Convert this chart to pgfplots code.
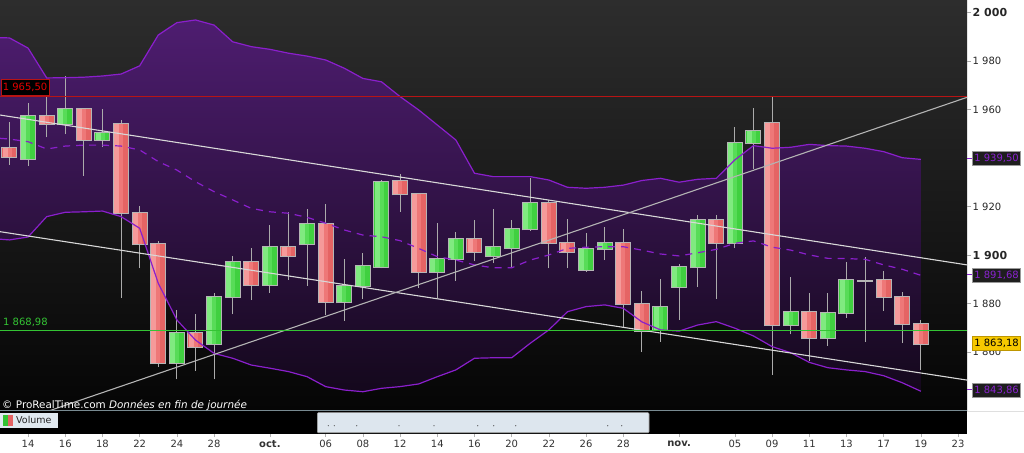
\documentclass[border=0pt]{standalone}
\usepackage{pgfplots}
\usepackage{pgfplotstable}
\pgfplotsset{compat=1.18}
\usepackage{fontspec}
\setmainfont{DejaVu Sans}

\definecolor{bgtop}{HTML}{2D2D2D}
\definecolor{bgbot}{HTML}{050505}
\definecolor{bandtop}{HTML}{4E1D70}
\definecolor{bandbot}{HTML}{14081C}
\definecolor{bandline}{HTML}{8A1FCC}
\definecolor{redbody}{HTML}{E56464}
\definecolor{redmid}{HTML}{EE7878}
\definecolor{redlight}{HTML}{F59A9A}
\definecolor{greenbody}{HTML}{40D040}
\definecolor{greenmid}{HTML}{58DC58}
\definecolor{greenlight}{HTML}{80EA80}
\definecolor{bordergray}{HTML}{B5B5B5}
\definecolor{wickgray}{HTML}{ABABAB}
\definecolor{resline}{HTML}{B81414}
\definecolor{supline}{HTML}{34C434}
\definecolor{trend}{HTML}{D8D8D8}
\definecolor{trendb}{HTML}{B4B4B4}
\definecolor{labpurple}{HTML}{8A22D0}
\definecolor{boxgray}{HTML}{1E1E1E}
\definecolor{volbox}{HTML}{DDE6EE}

\pgfplotstableread{
i up mid lo
-0.51 1989.7 1948.2 1906.6
0 1989.6 1947.9 1906.3
1 1985.4 1946.8 1907.5
2 1973.1 1943.8 1915.9
3 1973.2 1945.0 1917.7
4 1973.4 1945.4 1917.9
5 1973.9 1945.4 1918.2
6 1974.7 1945.0 1915.9
7 1978.1 1943.4 1911.1
8 1990.8 1938.6 1888.4
9 1995.9 1935.1 1873.3
10 1997.0 1930.3 1865.0
11 1994.9 1926.2 1859.5
12 1988.0 1922.8 1857.5
13 1986.0 1919.3 1854.7
14 1984.9 1917.9 1853.4
15 1983.3 1917.3 1852.0
16 1982.1 1915.6 1849.9
17 1980.5 1913.2 1845.8
18 1977.1 1910.4 1844.4
19 1972.9 1908.3 1843.7
20 1971.5 1907.6 1845.1
21 1965.4 1906.0 1845.8
22 1959.9 1902.8 1846.9
23 1953.7 1899.4 1849.9
24 1947.5 1898.0 1852.7
25 1933.8 1896.0 1857.5
26 1932.4 1894.8 1857.7
27 1932.4 1894.8 1857.7
28 1932.4 1898.0 1863.7
29 1931.0 1900.1 1869.2
30 1928.0 1902.8 1876.7
31 1927.6 1903.3 1878.8
32 1928.0 1903.5 1879.5
33 1928.9 1903.5 1878.1
34 1930.8 1902.1 1872.5
35 1931.7 1900.5 1869.2
36 1930.1 1899.7 1868.7
37 1931.3 1901.0 1871.2
38 1931.7 1902.4 1872.6
39 1939.3 1904.9 1869.9
40 1945.2 1905.9 1866.7
41 1944.1 1903.3 1862.3
42 1944.5 1902.1 1859.8
43 1945.7 1900.1 1855.8
44 1945.2 1898.7 1853.6
45 1945.0 1898.6 1852.7
46 1944.1 1898.3 1852.0
47 1942.7 1896.0 1850.3
48 1940.2 1894.2 1847.4
49 1939.5 1891.7 1843.9
}\bands

% band area outline: upper band forward, lower band backward
\pgfplotstableread{
i y
-0.51 1989.7
0 1989.6
1 1985.4
2 1973.1
3 1973.2
4 1973.4
5 1973.9
6 1974.7
7 1978.1
8 1990.8
9 1995.9
10 1997.0
11 1994.9
12 1988.0
13 1986.0
14 1984.9
15 1983.3
16 1982.1
17 1980.5
18 1977.1
19 1972.9
20 1971.5
21 1965.4
22 1959.9
23 1953.7
24 1947.5
25 1933.8
26 1932.4
27 1932.4
28 1932.4
29 1931.0
30 1928.0
31 1927.6
32 1928.0
33 1928.9
34 1930.8
35 1931.7
36 1930.1
37 1931.3
38 1931.7
39 1939.3
40 1945.2
41 1944.1
42 1944.5
43 1945.7
44 1945.2
45 1945.0
46 1944.1
47 1942.7
48 1940.2
49 1939.5
49 1843.9
48 1847.4
47 1850.3
46 1852.0
45 1852.7
44 1853.6
43 1855.8
42 1859.8
41 1862.3
40 1866.7
39 1869.9
38 1872.6
37 1871.2
36 1868.7
35 1869.2
34 1872.5
33 1878.1
32 1879.5
31 1878.8
30 1876.7
29 1869.2
28 1863.7
27 1857.7
26 1857.7
25 1857.5
24 1852.7
23 1849.9
22 1846.9
21 1845.8
20 1845.1
19 1843.7
18 1844.4
17 1845.8
16 1849.9
15 1852.0
14 1853.4
13 1854.7
12 1857.5
11 1859.5
10 1865.0
9 1873.3
8 1888.4
7 1911.1
6 1915.9
5 1918.2
4 1917.9
3 1917.7
2 1915.9
1 1907.5
0 1906.3
-0.51 1906.6
}\bandarea

\pgfplotstableread{
i o h l c
0 1944.3 1954.9 1937.2 1940.6
2 1957.3 1965.4 1948.6 1954.1
4 1960.2 1960.4 1932.8 1947.5
6 1954.0 1955.8 1882.5 1917.5
7 1917.3 1920.3 1894.6 1904.5
8 1904.5 1905.9 1854.0 1855.4
10 1867.8 1875.6 1852.4 1862.3
13 1897.1 1902.8 1881.5 1887.7
15 1903.3 1917.8 1889.8 1899.7
17 1912.9 1921.1 1875.5 1880.7
21 1930.7 1933.5 1917.9 1925.1
22 1925.1 1925.3 1886.4 1893.2
25 1906.6 1914.5 1897.7 1901.2
29 1921.4 1922.8 1894.6 1905.2
30 1905.2 1914.8 1894.6 1901.4
33 1905.2 1910.9 1869.9 1879.8
34 1879.8 1885.4 1860.0 1868.7
38 1914.5 1916.6 1881.9 1905.2
41 1954.4 1965.5 1850.6 1871.2
43 1876.7 1884.5 1856.5 1865.7
47 1889.8 1893.6 1877.1 1882.9
48 1882.9 1884.9 1863.7 1871.6
49 1871.6 1873.3 1852.7 1863.2
}\downtab

\pgfplotstableread{
i o h l c
1 1939.7 1962.6 1936.8 1957.5
3 1954.0 1973.9 1949.9 1960.2
5 1947.5 1960.2 1944.7 1950.5
9 1855.4 1877.4 1848.8 1867.8
11 1863.4 1884.3 1848.8 1882.9
12 1882.9 1899.7 1875.6 1897.1
14 1887.7 1912.3 1884.5 1903.3
16 1904.5 1919.2 1887.3 1912.9
18 1880.6 1898.6 1873.0 1887.4
19 1887.3 1900.8 1881.9 1895.5
20 1895.3 1931.0 1894.6 1930.1
23 1893.2 1913.2 1882.2 1898.3
24 1898.3 1909.6 1889.5 1906.6
26 1899.8 1918.9 1896.7 1903.3
27 1903.1 1914.5 1894.6 1910.9
28 1910.7 1932.0 1910.0 1921.4
31 1893.9 1909.0 1893.2 1902.4
32 1902.4 1911.8 1898.0 1905.2
35 1869.2 1890.1 1864.3 1878.5
36 1887.0 1896.4 1873.3 1895.0
37 1895.0 1916.7 1886.8 1914.5
39 1904.9 1952.7 1902.8 1946.1
40 1946.1 1960.6 1935.5 1951.3
42 1871.2 1890.9 1867.4 1876.7
44 1865.7 1884.3 1862.7 1876.0
45 1876.0 1897.1 1874.2 1889.8
46 1889.5 1899.1 1864.3 1889.5
}\uptab

% candles drawn as vertical quiver segments
\newcommand{\candles}[4]{%
 \addplot[forget plot, -, draw=wickgray, line width=1pt, quiver={u=0, v=\thisrow{h}-\thisrow{l}}]
   table[x=i, y=l]{#1};
 \addplot[forget plot, -, draw=bordergray, line width=16pt, quiver={u=0, v=abs(\thisrow{c}-\thisrow{o})+0.84}]
   table[x=i, y expr={min(\thisrow{o},\thisrow{c})-0.42}]{#1};
 \addplot[forget plot, -, draw=#4, line width=14pt, quiver={u=0, v=\thisrow{c}-\thisrow{o}}]
   table[x=i, y=o]{#1};
 \addplot[forget plot, -, draw=#3, line width=9pt, quiver={u=0, v=\thisrow{c}-\thisrow{o}}]
   table[x expr={\thisrow{i}-0.13}, y=o]{#1};
 \addplot[forget plot, -, draw=#2, line width=5pt, quiver={u=0, v=\thisrow{c}-\thisrow{o}}]
   table[x expr={\thisrow{i}-0.24}, y=o]{#1};
}

\tikzset{pbox/.style={draw=gray!80, fill=boxgray, text=labpurple, font=\fontsize{10}{12}\selectfont,
  inner sep=1.6pt, anchor=west, minimum height=14pt, line width=0.8pt}}

\begin{document}
\begin{tikzpicture}
\useasboundingbox (0,0) rectangle (1024pt,452pt);
\fill[white] (0,0) rectangle (1024pt,452pt);
\shade[top color=bgtop, bottom color=bgbot] (0pt,41pt) rectangle (967pt,452pt);

\begin{axis}[
  at={(0pt,41pt)}, anchor=south west,
  scale only axis, width=967pt, height=411pt,
  xmin=-0.51, xmax=51.48, ymin=1835.75, ymax=2005.24,
  axis line style={draw=none},
  xtick=\empty,
  ytick={1860,1880,1900,1920,1960,1980,2000},
  yticklabels={1 860,1 880,{\fontsize{11}{12}\selectfont\bfseries 1 900},1 920,1 960,1 980,{\fontsize{11}{12}\selectfont\bfseries 2 000}},
  ytick pos=right, yticklabel pos=right,
  tick align=outside, major tick length=4pt,
  tick style={draw=gray!70, line width=0.8pt},
  yticklabel style={font=\fontsize{10}{12}\selectfont, text=black!85, inner sep=1.5pt},
]
\addplot[top color=bandtop, bottom color=bandbot, draw=none, forget plot] table[x=i, y=y]{\bandarea};

\candles{\downtab}{redlight}{redmid}{redbody}
\candles{\uptab}{greenlight}{greenmid}{greenbody}

\addplot[bandline, line width=1.2pt, forget plot] table[x=i, y=up]{\bands};
\addplot[bandline, line width=1.2pt, forget plot] table[x=i, y=lo]{\bands};
\addplot[bandline, line width=1.2pt, dash pattern=on 7pt off 6pt, forget plot] table[x=i, y=mid]{\bands};

\addplot[trend, line width=1.1pt, forget plot] coordinates {(-0.51,1957.8) (51.48,1896.0)};
\addplot[trend, line width=1.1pt, forget plot] coordinates {(-0.51,1909.7) (51.48,1848.5)};
\addplot[trendb, line width=1.1pt, forget plot] coordinates {(-0.51,1828.9) (51.48,1965.1)};

\addplot[resline, line width=1.4pt, forget plot] coordinates {(-0.51,1965.5) (51.48,1965.5)};
\addplot[supline, line width=1.4pt, forget plot] coordinates {(-0.51,1868.98) (51.48,1868.98)};
\end{axis}

\fill[black] (0pt,18pt) rectangle (967pt,41pt);
\begin{axis}[
  at={(0pt,18pt)}, anchor=south west,
  scale only axis, width=967pt, height=23pt,
  xmin=-0.51, xmax=51.48, ymin=0, ymax=1,
  axis line style={draw=none},
  ytick=\empty,
  xtick={1,3,5,7,9,11,14,17,19,21,23,25,27,29,31,33,36,39,41,43,45,47,49,51},
  xticklabels={14,16,18,22,24,28,\textbf{oct.},06,08,12,14,16,20,22,26,28,\textbf{nov.},05,09,11,13,17,19,23},
  xtick pos=bottom, tick align=outside, major tick length=3pt,
  tick style={draw=gray!60, line width=0.6pt},
  xticklabel style={font=\fontsize{10}{12}\selectfont, text=black!80},
]
\addplot[draw=none, forget plot] coordinates {(0,0.5) (50,0.5)};
\end{axis}

% separator between panels
\draw[color={rgb,255:red,120;green,138;blue,145}, line width=1pt] (0,41pt) -- (967pt,41pt);
\draw[gray!25, line width=0.8pt] (967pt,41pt) -- (1024pt,41pt);

% volume legend
\fill[volbox!90!white] (0,24.3pt) rectangle (58pt,39.3pt);
\fill[supline] (3pt,26.5pt) rectangle (8pt,37pt);
\fill[redbody] (8pt,26.5pt) rectangle (13pt,37pt);
\node[anchor=west, inner sep=0pt, font=\fontsize{9.5}{11}\selectfont, text=black!85] at (16pt,31.8pt) {Volume};

% navigator box
\draw[fill=volbox, draw=gray!70, line width=0.6pt, rounded corners=1pt] (317.3pt,19.3pt) rectangle (649pt,39.3pt);
\foreach \xx in {328.3,334.3,356.7,399,434,477.7,493.7,515.7,607.7,621.7}
  \fill[black!70] (\xx pt,26.3pt) circle (0.6pt);

% watermark
\node[anchor=west, inner sep=0pt, text=white, font=\fontsize{10.4}{12}\selectfont] at (2pt,47pt)
  {© ProRealTime.com \textit{Données en fin de journée}};

% left labels
\node[anchor=west, draw=resline, fill=black, text=red!90!black, line width=1pt, inner sep=1.8pt,
  minimum height=16pt, font=\fontsize{10}{12}\selectfont] at (0.5pt,364.5pt) {1 965,50};
\node[anchor=west, inner sep=0pt, text=supline, font=\fontsize{10}{12}\selectfont] at (3pt,130pt) {1 868,98};

% right labels
\draw[labpurple, line width=1pt] (967pt,293.7pt) -- (972.3pt,293.7pt);
\node[pbox] at (972.3pt,293.7pt) {1 939,50};
\draw[labpurple, line width=1pt] (967pt,177pt) -- (972.3pt,177pt);
\node[pbox] at (972.3pt,177pt) {1 891,68};
\draw[labpurple, line width=1pt] (967pt,62pt) -- (972.3pt,62pt);
\node[pbox] at (972.3pt,62pt) {1 843,86};
\node[pbox, fill={rgb,255:red,246;green,200;blue,0}, draw={rgb,255:red,190;green,150;blue,0}, text=black] at (972.3pt,108.3pt) {1 863,18};
\end{tikzpicture}
\end{document}
